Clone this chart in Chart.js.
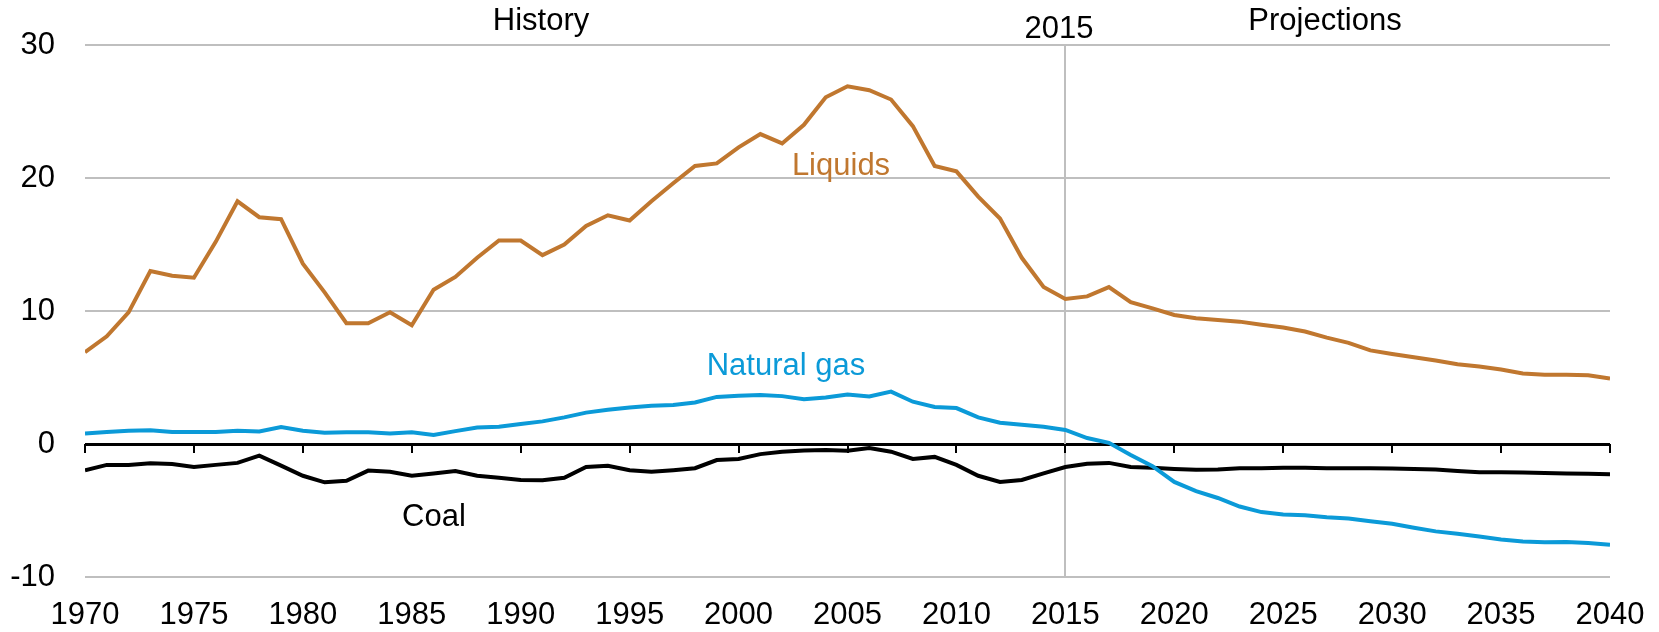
<!DOCTYPE html>
<html>
<head>
<meta charset="utf-8">
<script src="https://cdn.jsdelivr.net/npm/chart.js@4/dist/chart.umd.min.js"></script>
<style>
    body { margin: 0; background: #fff; }
    #wrap { width: 1659px; height: 632px; }
</style>
</head>
<body>
<div id="wrap"><canvas id="energyChart" width="1659" height="632"></canvas></div>
<script>
var years = [1970, 1971, 1972, 1973, 1974, 1975, 1976, 1977, 1978, 1979,
    1980, 1981, 1982, 1983, 1984, 1985, 1986, 1987, 1988, 1989,
    1990, 1991, 1992, 1993, 1994, 1995, 1996, 1997, 1998, 1999,
    2000, 2001, 2002, 2003, 2004, 2005, 2006, 2007, 2008, 2009,
    2010, 2011, 2012, 2013, 2014, 2015, 2016, 2017, 2018, 2019,
    2020, 2021, 2022, 2023, 2024, 2025, 2026, 2027, 2028, 2029,
    2030, 2031, 2032, 2033, 2034, 2035, 2036, 2037, 2038, 2039,
    2040];

var liquids = [6.9, 8.1, 9.9, 13.0, 12.65, 12.5, 15.2, 18.25, 17.05, 16.9,
    13.56, 11.4, 9.08, 9.08, 9.9, 8.93, 11.6, 12.56, 14.0, 15.3,
    15.3, 14.2, 15.0, 16.4, 17.2, 16.8, 18.25, 19.6, 20.9, 21.1,
    22.3, 23.3, 22.6, 24.0, 26.07, 26.9, 26.6, 25.9, 23.9, 20.9,
    20.5, 18.6, 16.95, 14.0, 11.8, 10.9, 11.1, 11.8, 10.66, 10.2,
    9.7, 9.46, 9.33, 9.2, 8.97, 8.76, 8.46, 8.0, 7.6, 7.04,
    6.77, 6.53, 6.28, 6.0, 5.83, 5.6, 5.3, 5.2, 5.2, 5.17,
    4.93];

var naturalGas = [0.79, 0.9, 1.0, 1.03, 0.9, 0.9, 0.9, 1.0, 0.94, 1.27,
    1.0, 0.85, 0.88, 0.88, 0.79, 0.88, 0.67, 0.97, 1.24, 1.3,
    1.5, 1.7, 2.0, 2.36, 2.57, 2.75, 2.88, 2.94, 3.12, 3.54,
    3.63, 3.69, 3.6, 3.36, 3.5, 3.72, 3.57, 3.94, 3.18, 2.79,
    2.7, 2.0, 1.6, 1.45, 1.3, 1.06, 0.45, 0.09, -0.82, -1.67,
    -2.85, -3.54, -4.06, -4.7, -5.12, -5.3, -5.36, -5.5, -5.6, -5.8,
    -6.0, -6.3, -6.57, -6.75, -6.96, -7.18, -7.33, -7.39, -7.36, -7.45,
    -7.57];

var coal = [-1.97, -1.57, -1.57, -1.45, -1.51, -1.73, -1.57, -1.42, -0.88, -1.63,
    -2.39, -2.88, -2.76, -2.0, -2.09, -2.39, -2.21, -2.03, -2.39, -2.54,
    -2.7, -2.73, -2.54, -1.73, -1.63, -1.97, -2.09, -1.97, -1.82, -1.21,
    -1.12, -0.76, -0.58, -0.48, -0.45, -0.51, -0.3, -0.58, -1.12, -0.97,
    -1.57, -2.39, -2.85, -2.7, -2.21, -1.73, -1.48, -1.42, -1.73, -1.79,
    -1.88, -1.94, -1.91, -1.82, -1.82, -1.79, -1.79, -1.82, -1.82, -1.82,
    -1.85, -1.88, -1.91, -2.03, -2.12, -2.12, -2.15, -2.18, -2.21, -2.24,
    -2.27];

var yTicks = [-10, 0, 10, 20, 30];
var xTicks = [1970, 1975, 1980, 1985, 1990, 1995, 2000, 2005, 2010, 2015, 2020, 2025, 2030, 2035, 2040];
var splitYear = 2015;

const FONT = '"Liberation Sans", Arial, sans-serif';
const liquidsColor = '#c0772f';
const gasColor = '#0b9ad8';

function toPoints(values) {
    return values.map((v, i) => ({x: years[i], y: v}));
}

// zero line tick marks, 2015 divider and the text labels
const overlay = {
    id: 'overlay',
    beforeDatasetsDraw(chart) {
        const ctx = chart.ctx;
        const x = chart.scales.x;
        const y = chart.scales.y;
        const px = Math.round(x.getPixelForValue(splitYear));
        ctx.save();
        ctx.strokeStyle = '#bfbfbf';
        ctx.lineWidth = 2;
        ctx.beginPath();
        ctx.moveTo(px, chart.chartArea.top);
        ctx.lineTo(px, chart.chartArea.bottom);
        ctx.stroke();

        const y0 = y.getPixelForValue(0);
        ctx.strokeStyle = '#000';
        ctx.lineWidth = 2;
        xTicks.forEach(t => {
            const tx = Math.round(x.getPixelForValue(t));
            ctx.beginPath();
            ctx.moveTo(tx, y0);
            ctx.lineTo(tx, y0 + 9);
            ctx.stroke();
        });
        ctx.restore();
    },
    afterDraw(chart) {
        const ctx = chart.ctx;
        ctx.save();
        ctx.font = '31px ' + FONT;
        ctx.textAlign = 'center';
        ctx.textBaseline = 'alphabetic';
        ctx.fillStyle = '#000';
        ctx.fillText('History', 541, 30);
        ctx.fillText('Projections', 1325, 30);
        ctx.fillText('2015', 1059, 38);
        ctx.fillText('Coal', 434, 526);
        ctx.fillStyle = liquidsColor;
        ctx.fillText('Liquids', 841, 175);
        ctx.fillStyle = gasColor;
        ctx.fillText('Natural gas', 786, 375);
        ctx.restore();
    }
};

const ctx = document.getElementById('energyChart').getContext('2d');
new Chart(ctx, {
    type: 'line',
    data: {
        datasets: [
            {
                label: 'Liquids',
                data: toPoints(liquids),
                borderColor: liquidsColor,
                borderWidth: 4,
                pointRadius: 0,
                fill: false
            },
            {
                label: 'Natural gas',
                data: toPoints(naturalGas),
                borderColor: gasColor,
                borderWidth: 4,
                pointRadius: 0,
                fill: false
            },
            {
                label: 'Coal',
                data: toPoints(coal),
                borderColor: '#000',
                borderWidth: 4,
                pointRadius: 0,
                fill: false
            }
        ]
    },
    options: {
        responsive: false,
        animation: false,
        layout: {padding: {top: 45, right: 49, bottom: 0, left: 0}},
        plugins: {
            legend: {display: false},
            tooltip: {enabled: false}
        },
        scales: {
            x: {
                type: 'linear',
                min: 1970,
                max: 2040,
                afterFit: scale => {
                    scale.height = 55;
                    scale.paddingLeft = 0;
                    scale.paddingRight = 0;
                },
                afterBuildTicks: scale => { scale.ticks = xTicks.map(v => ({value: v})); },
                grid: {display: false, drawTicks: false},
                border: {display: false},
                ticks: {
                    color: '#000',
                    padding: 20,
                    maxRotation: 0,
                    autoSkip: false,
                    font: {family: FONT, size: 31},
                    callback: v => String(v)
                }
            },
            y: {
                min: -10,
                max: 30,
                afterFit: scale => {
                    scale.width = 85;
                    scale.paddingTop = 0;
                    scale.paddingBottom = 0;
                },
                afterBuildTicks: scale => { scale.ticks = yTicks.map(v => ({value: v})); },
                grid: {
                    drawTicks: false,
                    color: c => c.tick && c.tick.value === 0 ? '#000' : '#bfbfbf',
                    lineWidth: c => c.tick && c.tick.value === 0 ? 3 : 2
                },
                border: {display: false},
                ticks: {
                    color: '#000',
                    padding: 30,
                    font: {family: FONT, size: 31}
                }
            }
        }
    },
    plugins: [overlay]
});
</script>
</body>
</html>
